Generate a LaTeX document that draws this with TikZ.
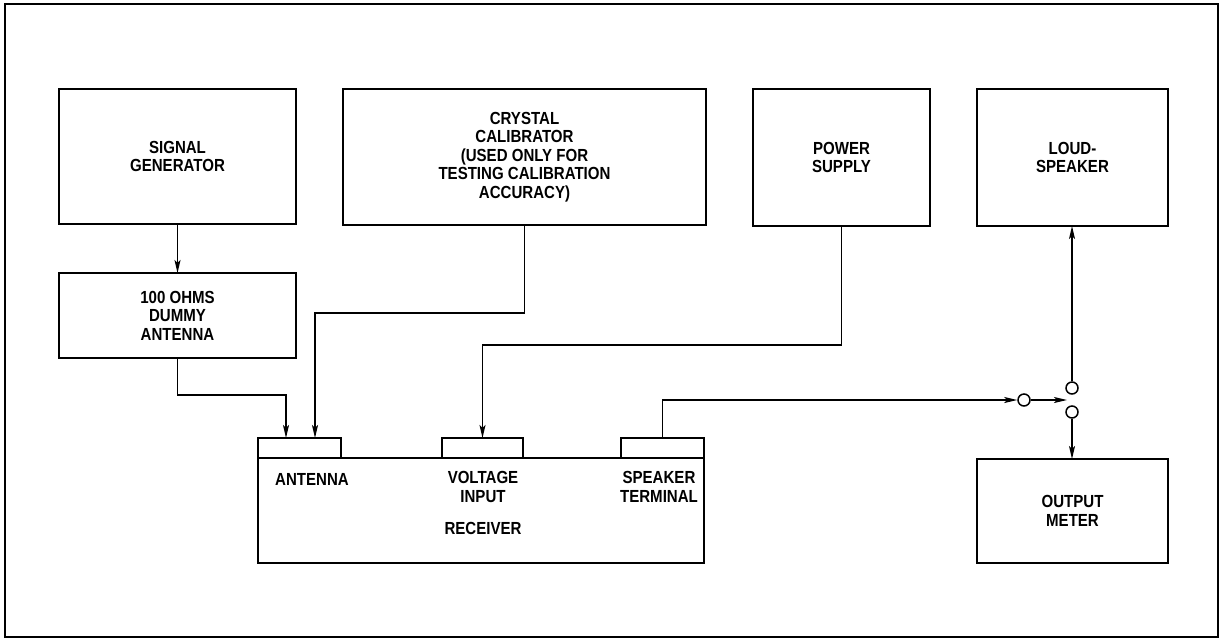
\documentclass[tikz,border=0pt]{standalone}
\usepackage{fontspec}
\newfontfamily\diagfont{Liberation Sans}[FakeStretch=0.86]
\usetikzlibrary{positioning, arrows.meta}

\begin{document}
\begin{tikzpicture}[
    x=1pt, y=-1pt,
    font=\diagfont\bfseries\fontsize{17.5}{18.5}\selectfont,
    node distance=49pt and 2cm,
    box/.style={draw, line width=1.7pt, rectangle, align=center, inner sep=0pt, outer sep=0pt},
    termbox/.style={draw, line width=1.7pt, rectangle, minimum height=20pt, inner sep=0pt, outer sep=0pt},
    txt/.style={align=center, inner sep=0pt},
    arrow/.style={-{Stealth[length=13pt, width=6pt, inset=3pt]}, line width=1.5pt},
    contact/.style={draw, circle, line width=1.5pt, minimum size=12pt, inner sep=0pt, fill=white}
  ]

  % Frame
  \useasboundingbox (0,0) rectangle (1223,641);
  \draw[line width=1.7pt] (5,4) rectangle (1218,637);

  % Define the blocks
  \node[box, minimum width=237pt, minimum height=135pt] (gen) at (177.5,156.5) {SIGNAL\\GENERATOR};
  \node[box, minimum width=237pt, minimum height=85pt, below=49pt of gen] (dummy) {100 OHMS\\DUMMY\\ANTENNA};
  \node[box, minimum width=363pt, minimum height=136pt] (crystal) at (524.5,157) {CRYSTAL\\CALIBRATOR\\(USED ONLY FOR\\TESTING CALIBRATION\\ACCURACY)};
  \node[box, minimum width=177pt, minimum height=137pt] (power) at (841.5,157.5) {POWER\\SUPPLY};
  \node[box, minimum width=191pt, minimum height=137pt] (loud) at (1072.5,157.5) {LOUD-\\SPEAKER};
  \node[box, minimum width=191pt, minimum height=104pt] (meter) at (1072.5,511) {OUTPUT\\METER};

  % Receiver and its terminals
  \node[box, minimum width=446pt, minimum height=105pt] (rec) at (481,510.5) {};
  \node[termbox, minimum width=83pt, anchor=south west] (anttab) at (rec.north west) {};
  \node[termbox, minimum width=81pt, anchor=south] (volttab) at (rec.north -| 482.5,0) {};
  \node[termbox, minimum width=83pt, anchor=south east] (spktab) at (rec.north east) {};
  \node[txt] (antlbl) at (312,479) {ANTENNA};
  \node[txt] (voltlbl) at (483,487) {VOLTAGE\\INPUT};
  \node[txt] (reclbl) at (483,528) {RECEIVER};
  \node[txt] (spklbl) at (659,487) {SPEAKER\\TERMINAL};

  % Switch
  \node[contact] (swin) at (1024,400) {};
  \node[contact] (swup) at (1072,388) {};
  \node[contact] (swdn) at (1072,412) {};
  \coordinate (swarm) at (1067,400);

  % Draw the connecting arrows
  \draw[arrow] (gen) -- (dummy);
  \draw[arrow] (dummy.south) -- ++(0,37) -| ([xshift=-13.5pt]anttab.north);
  \draw[arrow] (crystal.south) -- ++(0,88) -| ([xshift=15.5pt]anttab.north);
  \draw[arrow] (power.south) -- ++(0,119) -| (volttab.north);
  \draw[arrow] (spktab.north) |- (swin.west);
  \draw[arrow] (swin.east) -- (swarm);
  \draw[arrow] (swup.north) -- (swup |- loud.south);
  \draw[arrow] (swdn.south) -- (swdn |- meter.north);

\end{tikzpicture}
\end{document}
